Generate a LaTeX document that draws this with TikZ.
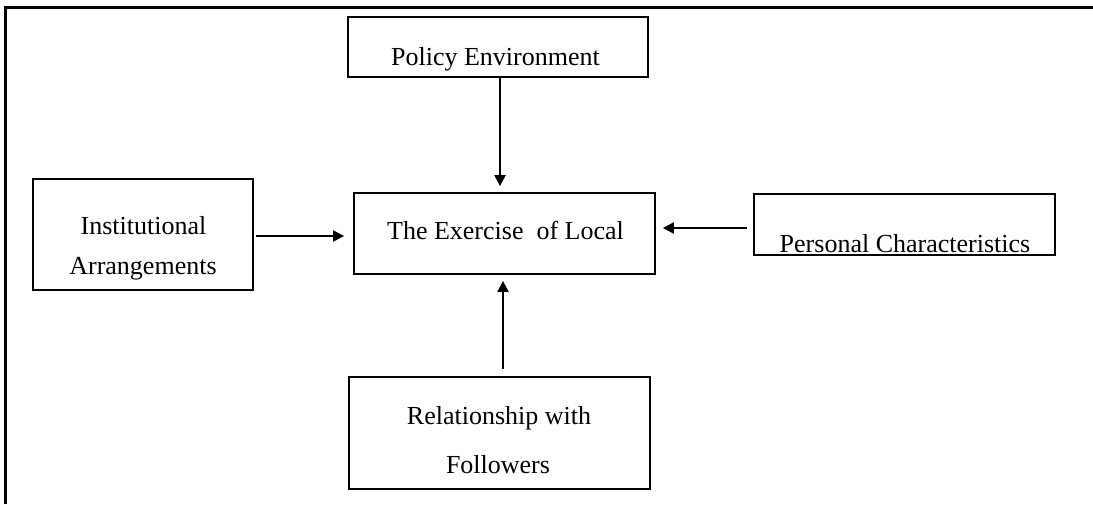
\documentclass[tikz,border=0pt]{standalone}
\usepackage{fontspec}
\setmainfont{Liberation Serif}
\usetikzlibrary{arrows.meta}
\begin{document}
\begin{tikzpicture}[x=1pt,y=-1pt,
  box/.style={draw,line width=1.8pt,rectangle,inner sep=0pt},
  txt/.style={anchor=base,inner sep=0pt,font=\fontsize{26}{30}\selectfont},
  arr/.style={line width=2.2pt,-{Triangle[length=11pt,width=11pt]}},
  frame/.style={line width=2.6pt}]
\useasboundingbox (0,0) rectangle (1093,504);
% outer frame (top and left edges)
\coordinate (fbl) at (5.5,504);
\coordinate (ftl) at (5.5,7.5);
\coordinate (ftr) at (1093,7.5);
\draw[frame] (fbl) -- (ftl) -- (ftr);
% boxes
\node[box,minimum width=300pt,minimum height=60pt] (pe) at (498,47) {};
\node[box,minimum width=301pt,minimum height=81pt] (ex) at (504.5,233.5) {};
\node[box,minimum width=220pt,minimum height=111pt] (ia) at (143,234.5) {};
\node[box,minimum width=301pt,minimum height=61pt] (pc) at (904.5,224.5) {};
\node[box,minimum width=301pt,minimum height=112pt] (rf) at (499.5,433) {};
% texts
\node[txt] (pet) at (495.5,65) {Policy Environment};
\node[txt] (ext) at (505.5,239) {The Exercise\hspace{0.25em} of Local};
\node[txt] (pct) at (905,252) {Personal Characteristics};
\node[txt] (iat1) at (143.5,234) {Institutional};
\node[txt] (iat2) at (143,274) {Arrangements};
\node[txt] (rft1) at (499,424) {Relationship with};
\node[txt] (rft2) at (498,473) {Followers};
% arrows
\draw[arr,shorten >=6pt] ([xshift=2pt]pe.south) -- ([xshift=2pt]pe.south |- ex.north);
\draw[arr,shorten <=2pt,shorten >=9pt] ([yshift=-1.5pt]ia.east) -- ([yshift=-1.5pt]ia.east -| ex.west);
\draw[arr,shorten <=6pt,shorten >=7pt] ([yshift=-3.5pt]pc.west) -- ([yshift=-3.5pt]pc.west -| ex.east);
\draw[arr,shorten <=7pt,shorten >=6pt] ([xshift=3.5pt]rf.north) -- ([xshift=3.5pt]rf.north |- ex.south);
\end{tikzpicture}
\end{document}
